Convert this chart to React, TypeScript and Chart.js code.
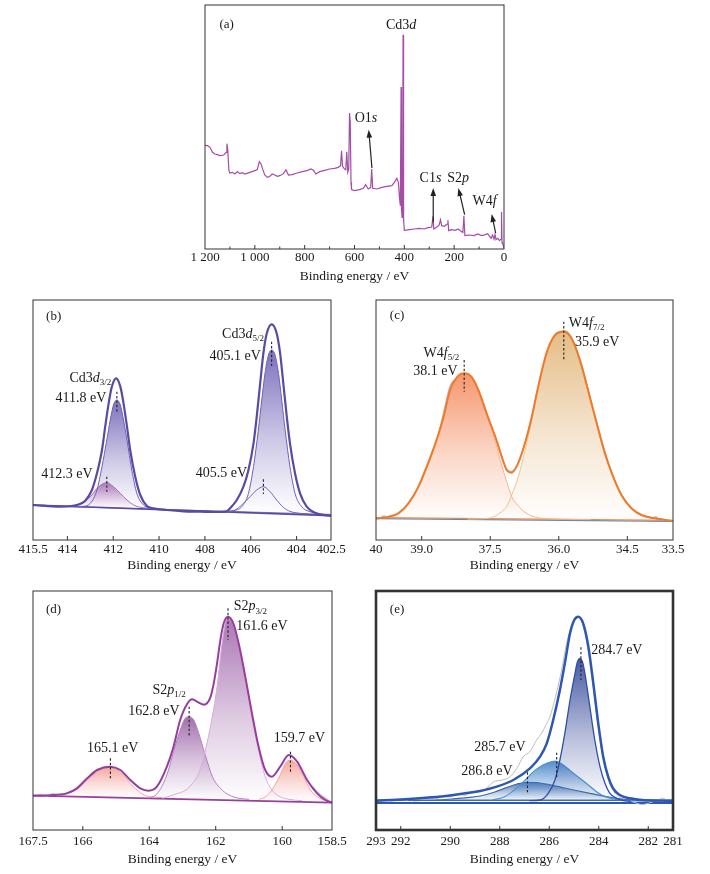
import React, { useEffect, useRef } from "react";
import { Chart, registerables } from "chart.js";
Chart.register(...registerables);

const FONT = '"Liberation Serif", "Times New Roman", serif';
const TITLE = "Binding energy / eV";

// ---------------- (a) survey spectrum ----------------
const A_SURVEY: number[][] = [
  [1200, 311], [1190, 310], [1180, 305], [1170, 290], [1160, 285], [1150, 283], [1140, 280], [1125, 282],
  [1115, 290], [1112, 316], [1109, 300], [1104, 235], [1100, 228], [1090, 230], [1080, 225], [1070, 232],
  [1060, 226], [1050, 229], [1040, 225], [1020, 230], [1000, 235], [990, 238], [982, 262], [975, 255],
  [968, 238], [960, 222], [950, 215], [940, 218], [930, 225], [920, 222], [910, 218], [900, 220],
  [885, 226], [875, 238], [865, 222], [850, 223], [830, 228], [810, 232], [790, 235], [775, 240],
  [765, 236], [755, 225], [740, 232], [720, 236], [700, 240], [680, 242], [665, 245], [656, 250],
  [652, 295], [648, 248], [640, 240], [635, 238], [631, 292], [627, 230], [623, 240], [620, 408],
  [617, 380], [614, 200], [612, 178], [600, 175], [580, 178], [565, 182], [555, 193], [545, 180],
  [535, 185], [531, 240], [527, 182], [510, 180], [490, 185], [470, 188], [450, 190], [440, 200],
  [430, 212], [424, 200], [419, 150], [416, 130], [413, 486], [411.5, 120], [409, 95], [407, 140],
  [405, 643], [403, 90], [400, 56], [380, 58], [360, 60], [340, 62], [320, 60], [305, 64],
  [290, 66], [285, 98], [282, 60], [270, 65], [260, 72], [255, 88], [250, 70], [240, 68],
  [228, 75], [225, 86], [222, 55], [210, 58], [195, 56], [185, 60], [175, 55], [165, 50],
  [161, 100], [157, 40], [140, 42], [120, 40], [105, 45], [90, 40], [75, 43], [66, 46],
  [60, 40], [52, 32], [46, 42], [40, 30], [36, 44], [32, 28], [25, 32], [18, 25],
  [12, 30], [10, 111], [8, 20], [5, 15], [2, 8], [0, 3],
];
const A_TICKS = [1200, 1000, 800, 600, 400, 200, 0];
const A_TICK_LABELS = ["1 200", "1 000", "800", "600", "400", "200", "0"];
const A_MINOR = [1100, 900, 700, 500, 300, 100];

// ---------------- (b) Cd 3d ----------------
const B_BASE: number[][] = [[415.5, 105], [402.5, 73]];
const B_BASE2: number[][] = [[415.5, 103], [402.5, 77]];
const B_ENV: number[][] = [
  [415.5, 105], [414.3, 100], [413.8, 102], [413.58, 105], [413.22, 118], [412.93, 150], [412.71, 200],
  [412.49, 270], [412.35, 340], [412.2, 410], [412.06, 460], [411.87, 485], [411.69, 460], [411.55, 410],
  [411.4, 340], [411.26, 270], [411.04, 190], [410.82, 135], [410.53, 102], [410.24, 95], [409.66, 90],
  [408.93, 86], [408.21, 85], [407.48, 84], [407.05, 86], [406.9, 95], [406.61, 120], [406.32, 160],
  [406.1, 210], [405.88, 290], [405.74, 370], [405.59, 470], [405.45, 560], [405.3, 620], [405.09, 647],
  [404.87, 620], [404.72, 560], [404.58, 470], [404.43, 370], [404.29, 290], [404.07, 200], [403.85, 140],
  [403.56, 100], [403.2, 82], [402.98, 77], [402.5, 73],
];
const B_CD32: number[][] = [
  [413.6, 100], [413.3, 101], [413.0, 110], [412.71, 150], [412.49, 220], [412.28, 300], [412.13, 360],
  [411.99, 405], [411.84, 420], [411.69, 405], [411.55, 360], [411.4, 300], [411.19, 210], [410.97, 140],
  [410.68, 105], [410.39, 96], [410.1, 94],
];
const B_CD32_B: number[][] = [
  [414.2, 101], [413.87, 102], [413.44, 110], [413.0, 130], [412.71, 155], [412.5, 167], [412.28, 172],
  [411.99, 160], [411.69, 140], [411.4, 120], [411.11, 105], [410.82, 98], [410.5, 96],
];
const B_CD52: number[][] = [
  [407.0, 86], [406.76, 88], [406.39, 100], [406.1, 140], [405.88, 220], [405.67, 330], [405.52, 420],
  [405.38, 500], [405.23, 555], [405.09, 570], [404.94, 555], [404.79, 500], [404.65, 420], [404.5, 330],
  [404.29, 220], [404.07, 140], [403.78, 100], [403.42, 85], [403.1, 80],
];
const B_CD52_B: number[][] = [
  [407.2, 86], [406.97, 86], [406.68, 90], [406.32, 110], [406.03, 130], [405.74, 150], [405.45, 160],
  [405.16, 145], [404.87, 120], [404.58, 98], [404.29, 86], [403.85, 80], [403.5, 78],
];
const B_TICKS = [415.5, 414, 412, 410, 408, 406, 404, 402.5];
const B_TICK_LABELS = ["415.5", "414", "412", "410", "408", "406", "404", "402.5"];

// ---------------- (c) W 4f ----------------
const C_BASE_BLUE: number[][] = [[40, 64], [33.5, 56]];
const C_BASE_ORANGE: number[][] = [[40, 67], [33.5, 59]];
const C_ENV: number[][] = [
  [40, 65], [39.72, 70], [39.51, 80], [39.29, 110], [39.07, 160], [38.89, 220], [38.7, 290], [38.52, 370],
  [38.38, 450], [38.23, 488], [38.07, 500], [37.9, 488], [37.76, 450], [37.58, 380], [37.39, 310],
  [37.25, 250], [37.14, 210], [37.03, 202], [36.89, 230], [36.74, 290], [36.59, 370], [36.45, 460],
  [36.27, 560], [36.08, 615], [35.89, 625], [35.72, 605], [35.54, 540], [35.36, 450], [35.17, 350],
  [34.99, 260], [34.81, 190], [34.63, 135], [34.41, 95], [34.19, 75], [33.9, 65], [33.5, 57],
];
const C_W52: number[][] = [
  [40, 65], [39.72, 70], [39.51, 80], [39.29, 110], [39.07, 160], [38.89, 220], [38.7, 290], [38.52, 370],
  [38.38, 448], [38.23, 486], [38.07, 498], [37.9, 486], [37.76, 448], [37.58, 376], [37.39, 295],
  [37.25, 225], [37.14, 175], [37.03, 130], [36.89, 103], [36.74, 83], [36.59, 72], [36.3, 64],
  [35.8, 62], [35.3, 61],
];
const C_W72: number[][] = [
  [38.0, 63], [37.6, 64], [37.39, 72], [37.25, 85], [37.14, 100], [37.03, 135], [36.89, 188], [36.74, 268],
  [36.59, 360], [36.45, 455], [36.27, 558], [36.08, 614], [35.89, 624], [35.72, 604], [35.54, 540],
  [35.36, 450], [35.17, 350], [34.99, 260], [34.81, 190], [34.63, 135], [34.41, 95], [34.19, 75],
  [33.9, 65], [33.5, 57],
];
const C_RAW: number[][] = [
  [40, 64], [39.9, 66], [39.82, 72], [39.76, 68], [39.6, 74], [39.4, 92], [39.2, 128], [39.0, 180],
  [38.8, 250], [38.6, 335], [38.45, 425], [38.38, 462], [38.3, 478], [38.2, 490], [38.07, 500],
  [37.9, 485], [37.7, 430], [37.5, 350], [37.3, 275], [37.15, 215], [37.05, 205], [36.95, 215],
  [36.8, 262], [36.6, 365], [36.4, 490], [36.2, 585], [36.0, 625], [35.85, 627], [35.7, 600],
  [35.5, 528], [35.3, 420], [35.1, 318], [34.9, 225], [34.7, 155], [34.5, 110], [34.3, 82],
  [34.1, 70], [33.95, 64], [33.88, 70], [33.82, 64], [33.7, 60], [33.5, 57],
];
const C_TICKS = [40, 39, 37.5, 36, 34.5, 33.5];
const C_TICK_LABELS = ["40", "39.0", "37.5", "36.0", "34.5", "33.5"];

// ---------------- (d) S 2p ----------------
const D_BASE: number[][] = [[167.5, 103], [158.5, 82]];
const D_ENV: number[][] = [
  [167.5, 103], [166.88, 105], [166.48, 110], [166.18, 125], [165.87, 155], [165.57, 180], [165.17, 190],
  [164.87, 180], [164.57, 150], [164.27, 125], [164.02, 118], [163.77, 130], [163.47, 190], [163.27, 250],
  [163.07, 330], [162.86, 378], [162.71, 392], [162.51, 382], [162.36, 376], [162.16, 398], [162.06, 440],
  [161.96, 500], [161.86, 570], [161.76, 620], [161.63, 640], [161.47, 620], [161.31, 560], [161.11, 460],
  [160.91, 350], [160.71, 250], [160.51, 180], [160.31, 160], [160.06, 190], [159.8, 225], [159.55, 205],
  [159.25, 150], [158.95, 110], [158.7, 90], [158.5, 82],
];
const D_S165: number[][] = [
  [166.8, 106], [166.48, 110], [166.18, 122], [165.87, 150], [165.57, 175], [165.37, 186], [165.17, 188],
  [164.97, 182], [164.77, 165], [164.57, 140], [164.27, 112], [164.0, 100], [163.6, 97],
];
const D_S12: number[][] = [
  [164.0, 96], [163.77, 108], [163.47, 165], [163.27, 235], [163.07, 300], [162.92, 335], [162.8, 340],
  [162.66, 330], [162.51, 290], [162.3, 220], [162.1, 160], [161.86, 125], [161.6, 105], [161.3, 95],
  [161.0, 92],
];
const D_S32: number[][] = [
  [163.6, 95], [163.2, 108], [162.9, 120], [162.7, 140], [162.51, 170], [162.36, 220], [162.16, 310],
  [161.96, 430], [161.81, 560], [161.7, 625], [161.63, 635], [161.47, 615], [161.31, 555], [161.11, 455],
  [160.91, 345], [160.71, 240], [160.51, 160], [160.31, 120], [160.06, 100], [159.8, 92], [159.4, 88],
];
const D_S159: number[][] = [
  [160.7, 92], [160.5, 100], [160.31, 120], [160.06, 165], [159.9, 200], [159.75, 210], [159.55, 195],
  [159.35, 160], [159.15, 120], [158.95, 100], [158.7, 88], [158.5, 83],
];
const D_RAW_L: number[][] = [
  [167.5, 102], [167.25, 105], [167.05, 102], [166.9, 109], [166.78, 105], [166.6, 108], [166.45, 112], [166.3, 118],
];
const D_RAW_R: number[][] = [
  [159.1, 132], [158.95, 115], [158.8, 102], [158.7, 96], [158.6, 88], [158.5, 84],
];
const D_TICKS = [167.5, 166, 164, 162, 160, 158.5];
const D_TICK_LABELS = ["167.5", "166", "164", "162", "160", "158.5"];

// ---------------- (e) C 1s ----------------
const E_BASE1: number[][] = [[293, 89], [281, 89]];
const E_BASE2: number[][] = [[293, 81], [281, 81]];
const E_ENV: number[][] = [
  [293, 88], [291.82, 92], [290.74, 98], [289.8, 106], [289.1, 113], [288.79, 117], [288.12, 130],
  [287.45, 150], [286.78, 185], [286.37, 220], [286.1, 260], [285.84, 330], [285.57, 420], [285.37, 500],
  [285.16, 590], [284.99, 630], [284.83, 640], [284.63, 620], [284.42, 550], [284.22, 440], [284.02, 320],
  [283.82, 220], [283.62, 160], [283.42, 125], [283.15, 105], [282.74, 95], [282.14, 89], [281, 88],
];
const E_CC: number[][] = [
  [286.8, 88], [286.37, 90], [286.04, 110], [285.77, 150], [285.57, 210], [285.37, 290], [285.16, 390],
  [284.96, 470], [284.86, 505], [284.76, 515], [284.66, 505], [284.56, 470], [284.36, 370], [284.16, 270],
  [283.95, 190], [283.75, 140], [283.55, 110], [283.28, 95], [283.01, 88], [282.7, 86],
];
const E_CO: number[][] = [
  [288.3, 90], [287.8, 100], [287.45, 118], [287.18, 135], [286.91, 155], [286.64, 175], [286.37, 190],
  [286.1, 200], [285.77, 207], [285.43, 195], [285.1, 175], [284.76, 155], [284.42, 135], [284.09, 115],
  [283.75, 100], [283.3, 92], [282.8, 88], [282.3, 87],
];
const E_OCO: number[][] = [
  [291.5, 88], [290.5, 90], [289.8, 94], [289.2, 98], [288.79, 102], [288.2, 114], [287.7, 128],
  [287.3, 138], [286.91, 143], [286.5, 142], [286.0, 136], [285.5, 128], [285.0, 120], [284.36, 110],
  [283.69, 100], [283.0, 92], [282.3, 88], [281.5, 87],
];
const E_RAW: number[][] = [
  [293, 90], [292.8, 86], [292.6, 92], [292.4, 87], [292.1, 93], [291.8, 89], [291.5, 95], [291.2, 91],
  [290.9, 97], [290.6, 93], [290.3, 101], [290.0, 99], [289.7, 108], [289.4, 104], [289.1, 116],
  [288.79, 115], [288.5, 128], [288.25, 145], [287.9, 150], [287.58, 160], [287.31, 185], [287.05, 220],
  [286.78, 235], [286.51, 270], [286.31, 290], [286.1, 320], [285.97, 340], [285.75, 400], [285.5, 480],
  [285.3, 560], [285.1, 612], [284.92, 636], [284.8, 637], [284.65, 618], [284.45, 548], [284.25, 445],
  [284.05, 325], [283.85, 225], [283.65, 160], [283.45, 122], [283.2, 100], [282.95, 92], [282.7, 86],
  [282.45, 80], [282.25, 76], [282.0, 80], [281.8, 85], [281.6, 88], [281.45, 96], [281.3, 92],
  [281.15, 88], [281, 87],
];
const E_TICKS = [293, 292, 290, 288, 286, 284, 282, 281];
const E_TICK_LABELS = ["293", "292", "290", "288", "286", "284", "282", "281"];

// ---------------- helpers ----------------
type Seg = [string, "n" | "i" | "s"];
type TextAnn = { x: number; y: number; segs: Seg[]; size?: number };
type DashAnn = { x: number; y1: number; y2: number };
type ArrowAnn = { x1: number; y1: number; x2: number; y2: number };

const pts = (a: number[][]) => a.map(([x, y]) => ({ x, y }));

function gradient(rgb: number[], peak: number, base: number) {
  return (c: any) => {
    const chart = c.chart;
    if (!chart.chartArea) return "rgba(0,0,0,0)";
    const y = chart.scales.y;
    const g = chart.ctx.createLinearGradient(0, y.getPixelForValue(peak), 0, y.getPixelForValue(base));
    const [r, gg, b] = rgb;
    g.addColorStop(0, `rgba(${r},${gg},${b},0.9)`);
    g.addColorStop(0.55, `rgba(${r},${gg},${b},0.35)`);
    g.addColorStop(1, `rgba(${r},${gg},${b},0)`);
    return g;
  };
}

function line(data: number[][], color: string, width: number, extra: any = {}) {
  return {
    data: pts(data),
    borderColor: color,
    borderWidth: width,
    pointRadius: 0,
    fill: false,
    cubicInterpolationMode: "monotone",
    ...extra,
  };
}

function filled(data: number[][], color: string, width: number, rgb: number[]) {
  const ys = data.map((p) => p[1]);
  return line(data, color, width, {
    fill: "origin",
    backgroundColor: gradient(rgb, Math.max(...ys), Math.min(...ys)),
  });
}

function drawRich(ctx: CanvasRenderingContext2D, segs: Seg[], cx: number, cy: number, size: number) {
  const f = (s: string) =>
    s === "i" ? `italic ${size}px ${FONT}` : s === "s" ? `${Math.round(size * 0.64)}px ${FONT}` : `${size}px ${FONT}`;
  let total = 0;
  const ws = segs.map(([t, s]) => {
    ctx.font = f(s);
    const w = ctx.measureText(t).width;
    total += w;
    return w;
  });
  let x = cx - total / 2;
  ctx.textBaseline = "middle";
  ctx.textAlign = "left";
  segs.forEach(([t, s], i) => {
    ctx.font = f(s);
    ctx.fillText(t, x, s === "s" ? cy + size * 0.32 : cy);
    x += ws[i];
  });
}

function drawArrow(ctx: CanvasRenderingContext2D, x1: number, y1: number, x2: number, y2: number) {
  const a = Math.atan2(y2 - y1, x2 - x1);
  const L = 8, W = 2.8;
  ctx.beginPath();
  ctx.moveTo(x1, y1);
  ctx.lineTo(x2 - L * 0.7 * Math.cos(a), y2 - L * 0.7 * Math.sin(a));
  ctx.stroke();
  ctx.beginPath();
  ctx.moveTo(x2, y2);
  ctx.lineTo(x2 - L * Math.cos(a) + W * Math.sin(a), y2 - L * Math.sin(a) - W * Math.cos(a));
  ctx.lineTo(x2 - L * Math.cos(a) - W * Math.sin(a), y2 - L * Math.sin(a) + W * Math.cos(a));
  ctx.closePath();
  ctx.fill();
}

type PanelCfg = {
  box: { l: number; t: number; r: number; b: number };
  xmin: number;
  xmax: number;
  ymax: number;
  ticks: number[];
  tickLabels: string[];
  minor: number[];
  tickPad: number;
  axisH: number;
  borderW: number;
  datasets: () => any[];
  texts: TextAnn[];
  dashes: DashAnn[];
  arrows: ArrowAnn[];
};

const PAD_X = 30;
const PAD_T = 4;
const PAD_B = 2;

function decor(cfg: PanelCfg) {
  return {
    id: "decor",
    afterDatasetsDraw(chart: any) {
      const { ctx, chartArea: a, scales } = chart;
      const x = scales.x, y = scales.y;
      ctx.save();
      ctx.strokeStyle = "#222";
      ctx.fillStyle = "#222";
      ctx.lineWidth = 1.1;
      ctx.setLineDash([2.4, 2]);
      for (const d of cfg.dashes) {
        const px = x.getPixelForValue(d.x);
        ctx.beginPath();
        ctx.moveTo(px, y.getPixelForValue(d.y1));
        ctx.lineTo(px, y.getPixelForValue(d.y2));
        ctx.stroke();
      }
      ctx.setLineDash([]);
      ctx.lineWidth = 1.2;
      for (const ar of cfg.arrows) {
        drawArrow(ctx, x.getPixelForValue(ar.x1), y.getPixelForValue(ar.y1), x.getPixelForValue(ar.x2), y.getPixelForValue(ar.y2));
      }
      ctx.fillStyle = "#1a1a1a";
      for (const t of cfg.texts) {
        drawRich(ctx, t.segs, x.getPixelForValue(t.x), y.getPixelForValue(t.y), t.size ?? 14);
      }
      // frame
      ctx.strokeStyle = "#333";
      ctx.lineWidth = cfg.borderW;
      ctx.strokeRect(a.left, a.top, a.right - a.left, a.bottom - a.top);
      // inward tick marks
      ctx.lineWidth = 1;
      const inner = cfg.ticks.slice(1, -1);
      for (const v of inner) {
        const px = x.getPixelForValue(v);
        ctx.beginPath();
        ctx.moveTo(px, a.bottom);
        ctx.lineTo(px, a.bottom - 4);
        ctx.stroke();
      }
      for (const v of cfg.minor) {
        const px = x.getPixelForValue(v);
        ctx.beginPath();
        ctx.moveTo(px, a.bottom);
        ctx.lineTo(px, a.bottom - 2.5);
        ctx.stroke();
      }
      ctx.restore();
    },
  };
}

const T = (x: number, y: number, segs: Seg[], size?: number): TextAnn => ({ x, y, segs, size });

const PANELS: PanelCfg[] = [
  {
    box: { l: 205, t: 5, r: 504, b: 249 },
    xmin: 0, xmax: 1200, ymax: 732,
    ticks: A_TICKS, tickLabels: A_TICK_LABELS, minor: A_MINOR,
    tickPad: 1, axisH: 36, borderW: 1,
    datasets: () => [line(A_SURVEY, "#a44ca7", 1.2, { cubicInterpolationMode: "default", tension: 0 })],
    texts: [
      T(1113, 673, [["(a)", "n"]], 13),
      T(413, 670, [["Cd3", "n"], ["d", "i"]]),
      T(554, 393, [["O1", "n"], ["s", "i"]]),
      T(295, 211, [["C1", "n"], ["s", "i"]]),
      T(184, 211, [["S2", "n"], ["p", "i"]]),
      T(78, 143, [["W4", "n"], ["f", "i"]]),
    ],
    dashes: [],
    arrows: [
      { x1: 530, y1: 243, x2: 543, y2: 358 },
      { x1: 284, y1: 80, x2: 284, y2: 183 },
      { x1: 158, y1: 103, x2: 183, y2: 183 },
      { x1: 33.5, y1: 48, x2: 49.6, y2: 105 },
    ],
  },
  {
    box: { l: 33, t: 300, r: 331, b: 540 },
    xmin: 402.5, xmax: 415.5, ymax: 720,
    ticks: B_TICKS, tickLabels: B_TICK_LABELS, minor: [],
    tickPad: 1.5, axisH: 34, borderW: 1,
    datasets: () => [
      line(B_ENV, "#5a4aa3", 2.2),
      filled(B_CD52, "#6f60b6", 1, [112, 98, 182]),
      line(B_CD52_B, "#7862b8", 1),
      filled(B_CD32, "#6f60b6", 1, [112, 98, 182]),
      filled(B_CD32_B, "#a676b6", 1, [178, 112, 180]),
      line(B_BASE, "#5a4aa3", 1.6),
      line(B_BASE2, "#8f82c4", 1),
    ],
    texts: [
      T(414.6, 670, [["(b)", "n"]], 13),
      T(413.0, 485, [["Cd3", "n"], ["d", "i"], ["3/2", "s"]]),
      T(413.41, 425, [["411.8 eV", "n"]]),
      T(414.02, 197, [["412.3 eV", "n"]]),
      T(406.34, 617, [["Cd3", "n"], ["d", "i"], ["5/2", "s"]]),
      T(406.68, 552, [["405.1 eV", "n"]]),
      T(407.28, 200, [["405.5 eV", "n"]]),
    ],
    dashes: [
      { x: 411.84, y1: 445, y2: 385 },
      { x: 412.28, y1: 190, y2: 145 },
      { x: 405.09, y1: 595, y2: 520 },
      { x: 405.45, y1: 182, y2: 138 },
    ],
    arrows: [],
  },
  {
    box: { l: 376, t: 300, r: 673, b: 540 },
    xmin: 33.5, xmax: 40, ymax: 720,
    ticks: C_TICKS, tickLabels: C_TICK_LABELS, minor: [],
    tickPad: 1.5, axisH: 34, borderW: 1,
    datasets: () => [
      line(C_ENV, "#ef7a2a", 2),
      filled(C_W52, "#f6b48a", 1, [244, 140, 95]),
      filled(C_W72, "#efc48e", 1, [226, 182, 122]),
      line(C_RAW, "#b8b8b8", 1.3),
      line(C_BASE_ORANGE, "#ee8a40", 1.2),
      line(C_BASE_BLUE, "#5d88c4", 1.3),
    ],
    texts: [
      T(39.54, 672, [["(c)", "n"]], 13),
      T(38.57, 560, [["W4", "n"], ["f", "i"], ["5/2", "s"]]),
      T(38.7, 505, [["38.1 eV", "n"]]),
      T(35.39, 650, [["W4", "n"], ["f", "i"], ["7/2", "s"]]),
      T(35.16, 592, [["35.9 eV", "n"]]),
    ],
    dashes: [
      { x: 38.07, y1: 540, y2: 445 },
      { x: 35.89, y1: 655, y2: 540 },
    ],
    arrows: [],
  },
  {
    box: { l: 33, t: 591, r: 332, b: 830 },
    xmin: 158.5, xmax: 167.5, ymax: 717,
    ticks: D_TICKS, tickLabels: D_TICK_LABELS, minor: [],
    tickPad: 4, axisH: 38, borderW: 1,
    datasets: () => [
      line(D_ENV, "#983d9e", 2),
      filled(D_S32, "#d8acdc", 1, [162, 104, 172]),
      filled(D_S12, "#b582be", 1, [152, 96, 166]),
      filled(D_S165, "#f2a4a4", 1, [242, 160, 150]),
      filled(D_S159, "#f2a4a4", 1, [242, 160, 150]),
      line(D_RAW_L, "#bdbdbd", 1.3),
      line(D_RAW_R, "#bdbdbd", 1.3),
      line(D_BASE, "#983d9e", 1.8),
    ],
    texts: [
      T(166.88, 662, [["(d)", "n"]], 13),
      T(160.96, 670, [["S2", "n"], ["p", "i"], ["3/2", "s"]]),
      T(160.61, 612, [["161.6 eV", "n"]]),
      T(163.4, 420, [["S2", "n"], ["p", "i"], ["1/2", "s"]]),
      T(163.86, 355, [["162.8 eV", "n"]]),
      T(165.1, 245, [["165.1 eV", "n"]]),
      T(159.48, 275, [["159.7 eV", "n"]]),
    ],
    dashes: [
      { x: 161.63, y1: 665, y2: 570 },
      { x: 162.8, y1: 370, y2: 280 },
      { x: 165.17, y1: 215, y2: 155 },
      { x: 159.75, y1: 235, y2: 175 },
    ],
    arrows: [],
  },
  {
    box: { l: 376, t: 591, r: 673, b: 830 },
    xmin: 281, xmax: 293, ymax: 717,
    ticks: E_TICKS, tickLabels: E_TICK_LABELS, minor: [],
    tickPad: 4, axisH: 38, borderW: 2.6,
    datasets: () => [
      line(E_ENV, "#2d57b2", 2.5),
      filled(E_CC, "#2f4ea6", 1.3, [52, 72, 152]),
      filled(E_CO, "#4d94d4", 1.2, [62, 128, 202]),
      filled(E_OCO, "#3f6aa8", 1.2, [70, 110, 172]),
      line(E_RAW, "#bdbdbd", 1),
      line(E_BASE1, "#3a6cc0", 1.5),
      line(E_BASE2, "#2d57b2", 2),
    ],
    texts: [
      T(292.15, 660, [["(e)", "n"]], 13),
      T(283.27, 540, [["284.7 eV", "n"]]),
      T(287.99, 247, [["285.7 eV", "n"]]),
      T(288.52, 175, [["286.8 eV", "n"]]),
    ],
    dashes: [
      { x: 284.72, y1: 548, y2: 450 },
      { x: 285.7, y1: 232, y2: 155 },
      { x: 286.88, y1: 173, y2: 110 },
    ],
    arrows: [],
  },
];

function Panel({ cfg }: { cfg: PanelCfg }) {
  const ref = useRef<HTMLCanvasElement>(null);
  const { l, t, r, b } = cfg.box;
  const w = r - l + PAD_X * 2;
  const h = PAD_T + (b - t) + cfg.axisH + PAD_B;
  useEffect(() => {
    const canvas = ref.current;
    if (!canvas) return;
    const chart = new Chart(canvas, {
      type: "line",
      data: { datasets: cfg.datasets() },
      options: {
        responsive: false,
        maintainAspectRatio: false,
        animation: false,
        events: [],
        layout: { padding: { left: PAD_X, right: PAD_X, top: PAD_T, bottom: PAD_B } },
        plugins: { legend: { display: false }, tooltip: { enabled: false } },
        scales: {
          x: {
            type: "linear",
            min: cfg.xmin,
            max: cfg.xmax,
            reverse: true,
            grid: { display: false, drawTicks: false },
            border: { display: false },
            afterBuildTicks: (s: any) => {
              s.ticks = cfg.ticks.map((v) => ({ value: v }));
            },
            afterFit: (s: any) => {
              s.height = cfg.axisH;
            },
            ticks: {
              autoSkip: false,
              maxRotation: 0,
              minRotation: 0,
              padding: cfg.tickPad,
              color: "#1a1a1a",
              font: { family: FONT, size: 13 },
              callback: (_v: any, i: number) => cfg.tickLabels[i],
            },
            title: {
              display: true,
              text: TITLE,
              color: "#1a1a1a",
              font: { family: FONT, size: 13.5 },
              padding: { top: 0, bottom: 0 },
            },
          },
          y: { display: false, min: 0, max: cfg.ymax },
        },
      } as any,
      plugins: [decor(cfg)],
    });
    return () => chart.destroy();
  }, [cfg]);
  return (
    <canvas
      ref={ref}
      width={w}
      height={h}
      style={{ position: "absolute", left: l - PAD_X, top: t - PAD_T, width: w, height: h }}
    />
  );
}

export default function App() {
  return (
    <div style={{ position: "absolute", left: 0, top: 0, width: 710, height: 874, background: "#fff", overflow: "hidden" }}>
      {PANELS.map((p, i) => (
        <Panel key={i} cfg={p} />
      ))}
    </div>
  );
}
